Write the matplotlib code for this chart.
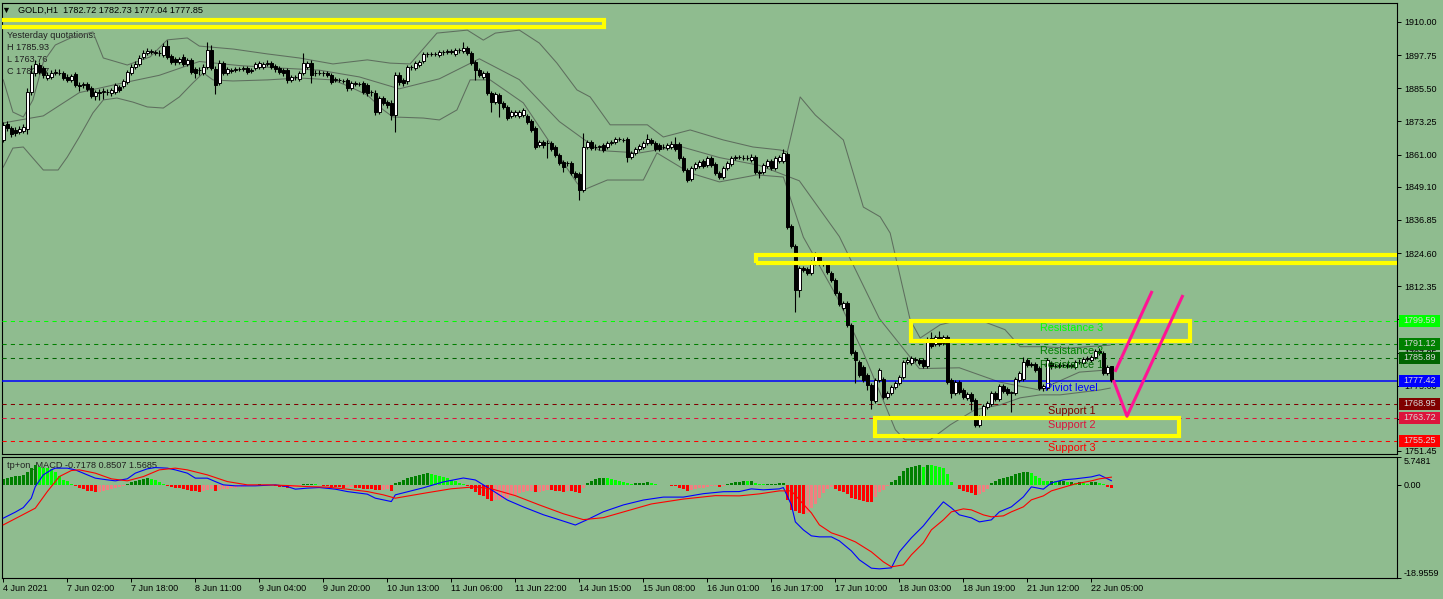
import numpy as np
import matplotlib.pyplot as plt
from matplotlib.patches import Rectangle
import matplotlib.transforms as mtransforms

plt.rcParams['font.family'] = ['Liberation Sans', 'DejaVu Sans']

BG = '#8FBC8F'

# GOLD H1 bars, 4 Jun 2021 10:00 .. 22 Jun 2021 10:00
opens = [
    1866.4, 1872.2, 1870.8, 1870.1, 1869.3, 1869.7, 1870.4, 1884.1, 1891.1, 1894.1,
    1892.9, 1889.3, 1889.6, 1891.1, 1891.1, 1891.1, 1889.6, 1888.5, 1890.7, 1886.7,
    1886.7, 1887.1, 1885.6, 1882.6, 1884.1, 1884.1, 1884.1, 1883.7, 1884.1, 1885.9,
    1886.3, 1887.8, 1891.1, 1893.3, 1894.4, 1897.0, 1898.5, 1898.9, 1898.5, 1898.5,
    1897.8, 1901.1, 1897.4, 1896.3, 1895.2, 1897.0, 1894.4, 1895.9, 1892.6, 1892.2,
    1891.1, 1893.3, 1899.6, 1892.6, 1887.4, 1894.8, 1891.1, 1891.9, 1892.2, 1892.6,
    1892.6, 1892.9, 1891.9, 1892.9, 1893.3, 1893.3, 1894.4, 1894.8, 1893.7, 1892.9,
    1892.2, 1892.2, 1888.5, 1889.6, 1888.9, 1891.1, 1893.3, 1894.8, 1891.1, 1891.1,
    1891.1, 1891.1, 1890.4, 1888.5, 1888.5, 1888.2, 1888.5, 1885.6, 1887.1, 1887.1,
    1887.4, 1886.7, 1884.1, 1883.7, 1876.7, 1881.9, 1880.4, 1880.0, 1875.6, 1890.4,
    1888.5, 1888.2, 1893.3, 1892.9, 1894.1, 1895.6, 1898.1, 1898.1, 1898.1, 1897.8,
    1898.9, 1898.9, 1899.3, 1898.1, 1899.6, 1899.3, 1900.4, 1898.5, 1895.2, 1892.2,
    1889.6, 1891.1, 1883.7, 1880.4, 1883.0, 1880.0, 1878.5, 1875.2, 1875.6, 1875.2,
    1875.6, 1875.2, 1873.4, 1870.8, 1864.5, 1865.6, 1865.3, 1865.3, 1863.8, 1860.8,
    1858.2, 1857.9, 1857.9, 1854.2, 1853.8, 1847.9, 1863.8, 1865.6, 1863.8, 1863.8,
    1864.5, 1863.8, 1865.3, 1865.6, 1866.7, 1866.4, 1866.7, 1860.1, 1861.6, 1863.0,
    1863.8, 1865.3, 1866.4, 1865.3, 1864.5, 1863.8, 1863.4, 1863.8, 1864.9, 1864.9,
    1859.7, 1855.3, 1851.9, 1856.0, 1856.7, 1858.6, 1857.1, 1859.7, 1857.5, 1854.2,
    1852.7, 1856.0, 1857.5, 1859.7, 1860.1, 1859.7, 1859.7, 1859.0, 1860.1, 1854.5,
    1854.5, 1856.7, 1858.6, 1856.0, 1858.6, 1858.6, 1861.2, 1834.6, 1827.2, 1810.9,
    1819.0, 1818.7, 1817.2, 1820.9, 1823.9, 1820.9, 1820.9, 1817.2, 1814.6, 1809.8,
    1804.3, 1806.1, 1798.0, 1787.9, 1784.3, 1782.4, 1779.5, 1775.8, 1769.9, 1777.7,
    1778.0, 1771.4, 1772.9, 1775.1, 1776.5, 1778.8, 1784.3, 1783.9, 1785.0, 1785.0,
    1785.0, 1782.8, 1793.2, 1791.0, 1793.6, 1791.4, 1793.6, 1777.7, 1772.9, 1776.9,
    1774.0, 1771.0, 1772.5, 1770.3, 1761.0, 1764.0, 1767.7, 1768.8, 1772.9, 1770.6,
    1775.5, 1774.4, 1772.9, 1772.9, 1777.7, 1778.0, 1785.0, 1783.6, 1783.6, 1782.1,
    1774.7, 1774.7, 1783.9, 1782.8, 1782.8, 1783.2, 1783.2, 1782.8, 1782.4, 1784.3,
    1783.9, 1785.4, 1785.0, 1786.1, 1788.4, 1787.6, 1780.2, 1782.72,
]
highs = [
    1873.0, 1873.4, 1871.5, 1871.2, 1871.5, 1872.2, 1885.6, 1894.1, 1895.9, 1895.2,
    1893.7, 1891.5, 1892.2, 1892.6, 1892.6, 1891.9, 1890.7, 1890.7, 1891.5, 1887.8,
    1887.8, 1887.8, 1886.3, 1884.8, 1885.2, 1885.6, 1885.2, 1885.6, 1887.4, 1886.7,
    1888.9, 1892.2, 1894.4, 1895.6, 1897.8, 1899.6, 1900.4, 1900.0, 1899.6, 1899.6,
    1902.2, 1903.3, 1898.1, 1897.0, 1897.0, 1898.1, 1896.7, 1896.7, 1893.3, 1893.3,
    1894.4, 1902.6, 1901.5, 1893.7, 1895.9, 1895.6, 1893.3, 1892.9, 1893.3, 1893.3,
    1893.7, 1893.7, 1892.9, 1895.2, 1895.6, 1895.2, 1895.9, 1895.6, 1894.4, 1893.7,
    1892.9, 1892.9, 1890.4, 1890.4, 1891.9, 1898.5, 1895.6, 1895.9, 1892.2, 1892.2,
    1891.9, 1891.9, 1891.1, 1889.6, 1889.3, 1888.9, 1889.3, 1888.2, 1888.2, 1887.8,
    1888.2, 1887.4, 1884.8, 1884.8, 1882.6, 1882.6, 1881.1, 1881.1, 1891.5, 1891.5,
    1889.3, 1894.1, 1894.1, 1895.6, 1895.9, 1898.9, 1898.9, 1898.9, 1898.9, 1899.6,
    1899.6, 1900.0, 1900.0, 1900.4, 1900.4, 1902.6, 1901.1, 1899.3, 1895.9, 1892.9,
    1891.9, 1891.9, 1884.5, 1884.1, 1883.7, 1880.8, 1879.3, 1877.4, 1877.4, 1877.4,
    1878.2, 1876.0, 1874.1, 1871.5, 1866.4, 1866.4, 1866.4, 1866.0, 1864.5, 1861.6,
    1859.0, 1858.6, 1858.6, 1854.9, 1854.5, 1869.0, 1866.4, 1866.4, 1864.9, 1864.5,
    1865.3, 1866.0, 1866.4, 1867.5, 1867.5, 1867.1, 1867.5, 1862.3, 1863.8, 1864.9,
    1866.0, 1868.6, 1867.1, 1866.0, 1865.3, 1864.9, 1865.3, 1866.0, 1867.5, 1865.6,
    1860.4, 1856.0, 1856.7, 1858.2, 1859.0, 1859.3, 1860.4, 1860.4, 1858.2, 1854.9,
    1856.7, 1858.6, 1860.4, 1860.8, 1860.8, 1860.8, 1860.8, 1861.2, 1860.8, 1855.3,
    1857.9, 1859.3, 1859.3, 1860.4, 1860.8, 1863.0, 1861.9, 1835.3, 1827.9, 1819.8,
    1819.8, 1819.4, 1822.0, 1825.0, 1824.6, 1821.6, 1821.6, 1817.9, 1815.3, 1810.5,
    1806.8, 1806.8, 1798.7, 1788.7, 1785.0, 1783.2, 1780.2, 1776.5, 1778.4, 1782.1,
    1778.8, 1773.6, 1775.8, 1777.3, 1779.5, 1785.0, 1786.1, 1786.5, 1786.1, 1785.8,
    1785.8, 1793.6, 1795.4, 1794.3, 1795.8, 1794.3, 1794.3, 1778.4, 1777.7, 1777.7,
    1774.7, 1773.2, 1773.2, 1771.0, 1764.7, 1768.8, 1769.9, 1773.6, 1773.6, 1776.2,
    1776.2, 1775.1, 1773.6, 1778.8, 1780.9, 1786.1, 1785.8, 1784.3, 1784.3, 1782.8,
    1776.2, 1785.8, 1784.7, 1783.6, 1783.9, 1783.9, 1783.9, 1783.9, 1785.0, 1785.4,
    1786.1, 1786.5, 1786.9, 1789.1, 1789.5, 1788.4, 1783.2, 1782.73,
]
lows = [
    1865.6, 1869.7, 1867.5, 1867.8, 1868.6, 1869.0, 1868.6, 1883.0, 1890.0, 1890.7,
    1889.3, 1888.5, 1888.9, 1890.4, 1890.4, 1888.5, 1887.8, 1887.8, 1885.9, 1884.5,
    1885.6, 1884.5, 1881.9, 1881.1, 1881.1, 1881.5, 1883.0, 1882.6, 1883.4, 1884.1,
    1885.6, 1887.1, 1890.4, 1892.6, 1893.7, 1896.3, 1897.8, 1898.1, 1897.8, 1897.4,
    1897.0, 1896.3, 1894.4, 1894.1, 1894.4, 1893.7, 1893.7, 1890.7, 1889.3, 1890.4,
    1890.4, 1892.6, 1892.2, 1883.4, 1886.7, 1890.4, 1890.4, 1891.1, 1891.5, 1891.9,
    1891.9, 1890.7, 1891.1, 1892.2, 1892.6, 1892.6, 1893.7, 1892.6, 1891.5, 1890.7,
    1890.0, 1887.4, 1887.8, 1888.5, 1888.2, 1890.4, 1892.6, 1887.4, 1890.0, 1890.4,
    1890.0, 1889.6, 1887.1, 1887.8, 1887.8, 1887.4, 1884.5, 1884.8, 1886.3, 1886.3,
    1883.4, 1882.6, 1882.6, 1875.6, 1876.0, 1879.3, 1878.2, 1873.7, 1869.3, 1886.7,
    1886.3, 1887.1, 1892.2, 1892.2, 1893.3, 1894.8, 1897.0, 1897.4, 1897.4, 1897.0,
    1897.8, 1898.1, 1898.1, 1897.4, 1898.5, 1898.5, 1897.8, 1894.1, 1888.5, 1889.6,
    1888.9, 1883.0, 1876.7, 1879.7, 1874.9, 1877.8, 1873.7, 1874.5, 1874.9, 1874.5,
    1874.9, 1872.2, 1869.3, 1863.0, 1863.8, 1863.4, 1859.7, 1862.3, 1860.1, 1857.1,
    1854.5, 1856.7, 1853.4, 1851.9, 1844.2, 1847.1, 1863.0, 1862.7, 1862.7, 1862.7,
    1861.9, 1863.0, 1864.5, 1864.9, 1866.0, 1865.6, 1858.2, 1859.3, 1860.8, 1862.3,
    1863.0, 1864.5, 1864.5, 1862.3, 1862.3, 1863.0, 1862.7, 1863.0, 1862.3, 1859.0,
    1854.5, 1850.9, 1851.2, 1855.3, 1856.0, 1856.0, 1856.4, 1856.4, 1853.4, 1851.9,
    1851.9, 1855.3, 1856.7, 1859.0, 1859.3, 1859.0, 1859.0, 1858.2, 1853.8, 1852.3,
    1853.8, 1856.0, 1855.3, 1855.3, 1857.9, 1857.9, 1833.5, 1826.5, 1802.8, 1808.3,
    1817.6, 1816.5, 1816.5, 1820.2, 1820.2, 1819.8, 1816.8, 1813.9, 1809.1, 1805.0,
    1803.5, 1797.2, 1786.9, 1776.5, 1778.8, 1776.9, 1774.0, 1767.0, 1769.2, 1776.9,
    1770.6, 1770.6, 1772.1, 1774.4, 1775.8, 1778.0, 1783.6, 1783.2, 1784.3, 1783.2,
    1782.1, 1782.1, 1789.5, 1790.3, 1790.3, 1790.6, 1776.2, 1771.0, 1772.1, 1772.5,
    1770.6, 1770.3, 1766.6, 1760.3, 1760.3, 1763.2, 1767.0, 1768.1, 1769.9, 1769.9,
    1772.9, 1772.1, 1765.8, 1772.1, 1776.9, 1777.3, 1782.4, 1782.4, 1780.6, 1774.0,
    1773.6, 1774.0, 1781.7, 1782.1, 1782.1, 1782.4, 1782.1, 1782.1, 1781.7, 1783.6,
    1783.2, 1784.7, 1784.3, 1785.4, 1786.9, 1779.5, 1779.5, 1777.04,
]
closes = [
    1871.9, 1870.8, 1868.6, 1869.0, 1870.4, 1871.2, 1884.1, 1891.1, 1894.4, 1891.5,
    1890.4, 1890.4, 1891.1, 1891.5, 1891.3, 1889.3, 1888.5, 1890.0, 1886.7, 1886.5,
    1886.9, 1885.2, 1882.6, 1884.1, 1883.9, 1884.5, 1884.2, 1884.8, 1886.7, 1884.8,
    1888.2, 1891.5, 1893.3, 1894.4, 1896.7, 1898.5, 1899.2, 1899.3, 1898.9, 1898.4,
    1901.1, 1897.0, 1895.2, 1895.2, 1896.3, 1894.4, 1895.9, 1891.5, 1891.1, 1892.1,
    1893.3, 1899.6, 1893.0, 1886.7, 1894.8, 1891.1, 1892.6, 1892.2, 1892.6, 1892.5,
    1892.9, 1891.5, 1892.2, 1894.4, 1894.8, 1894.4, 1894.8, 1893.3, 1892.6, 1891.5,
    1891.1, 1888.5, 1889.6, 1889.5, 1891.1, 1894.8, 1894.8, 1890.4, 1891.0, 1891.2,
    1891.0, 1890.4, 1887.8, 1888.9, 1888.4, 1888.1, 1885.6, 1887.4, 1887.4, 1887.0,
    1884.1, 1883.7, 1884.0, 1876.7, 1881.9, 1880.0, 1879.3, 1875.6, 1890.4, 1887.8,
    1887.4, 1893.3, 1893.4, 1894.8, 1895.2, 1898.1, 1898.2, 1898.0, 1898.2, 1898.9,
    1898.8, 1899.3, 1898.9, 1899.6, 1899.5, 1900.4, 1898.5, 1894.8, 1892.2, 1890.4,
    1891.1, 1883.7, 1880.4, 1883.4, 1880.0, 1878.5, 1874.5, 1876.7, 1876.7, 1876.7,
    1877.4, 1873.0, 1870.1, 1863.8, 1865.6, 1864.5, 1865.2, 1863.0, 1860.8, 1857.9,
    1856.4, 1857.8, 1854.2, 1852.7, 1847.9, 1863.8, 1865.6, 1863.4, 1863.7, 1863.9,
    1862.7, 1865.3, 1865.4, 1866.7, 1866.8, 1866.3, 1860.1, 1861.6, 1863.0, 1864.1,
    1865.3, 1866.7, 1865.3, 1863.0, 1863.0, 1863.7, 1864.5, 1864.9, 1863.0, 1859.7,
    1855.3, 1851.6, 1856.0, 1857.5, 1858.2, 1856.7, 1859.7, 1857.1, 1854.2, 1852.7,
    1856.0, 1857.9, 1859.7, 1860.1, 1860.0, 1859.8, 1859.6, 1860.1, 1854.5, 1854.2,
    1857.1, 1858.6, 1856.0, 1859.7, 1860.1, 1861.6, 1834.2, 1827.2, 1810.9, 1819.0,
    1818.3, 1817.2, 1821.3, 1823.9, 1820.9, 1820.5, 1817.6, 1814.6, 1809.8, 1805.7,
    1806.1, 1798.0, 1787.6, 1785.0, 1779.5, 1777.7, 1775.8, 1770.3, 1777.7, 1781.3,
    1771.4, 1772.9, 1775.1, 1776.5, 1778.8, 1784.3, 1785.0, 1785.8, 1785.4, 1783.9,
    1782.8, 1792.8, 1790.3, 1793.6, 1791.0, 1793.6, 1776.9, 1772.9, 1776.9, 1773.2,
    1771.4, 1772.5, 1769.9, 1761.0, 1764.0, 1768.1, 1769.2, 1772.9, 1770.6, 1775.5,
    1773.6, 1772.9, 1773.0, 1778.0, 1780.2, 1784.3, 1783.2, 1783.2, 1781.3, 1774.7,
    1775.5, 1785.0, 1782.8, 1782.7, 1783.2, 1783.1, 1782.8, 1783.2, 1784.3, 1784.2,
    1785.4, 1785.8, 1786.1, 1788.4, 1787.6, 1780.2, 1782.4, 1777.85,
]

# Bollinger bands, read at these bars
bb_up_bars = [0, 2.4, 5, 7.4, 10, 13, 17.4, 22.4, 25, 31, 36.7, 41, 46, 49, 57.5, 66, 74,
              82.4, 91, 96.7, 101.7, 108.4, 116, 120, 123, 129, 134, 138.4, 143.4, 146.7,
              151.7, 161, 165, 171.7, 180, 187.4, 194.2, 196, 199.2, 203, 210, 215,
              219.2, 221.7, 226.7, 229.2, 234.2, 239.2, 245.4, 250.4, 254.2, 259.2,
              266.7, 276.7]
bb_up = [1888.6, 1876.7, 1874.9, 1881.2, 1895.2, 1901.5, 1904.5, 1906.3, 1896.7, 1894.1,
         1897.1, 1903.4, 1904.1, 1901.1, 1900.0, 1898.2, 1896.7, 1894.5, 1896.0, 1894.8,
         1894.5, 1905.9, 1907.0, 1903.3, 1905.9, 1907.0, 1902.2, 1894.8, 1884.9, 1882.3,
         1872.0, 1872.0, 1867.5, 1870.1, 1866.4, 1863.8, 1862.7, 1862.0, 1882.3, 1875.6,
         1866.4, 1841.6, 1838.0, 1832.0, 1799.9, 1793.2, 1798.1, 1799.9, 1799.1, 1796.3,
         1790.0, 1790.0, 1789.5, 1790.6]
bb_mid_bars = [0, 10, 19, 29, 39, 49, 59, 69, 79, 89, 99, 109, 119, 129, 139, 149, 159,
               169, 179, 189, 199, 209, 219, 229, 239, 249, 259, 269, 277]
bb_mid = [1872.7, 1875.3, 1883.9, 1887.2, 1890.3, 1895.4, 1893.9, 1893.0, 1892.2, 1889.7,
          1885.3, 1889.0, 1896.4, 1888.7, 1873.2, 1862.5, 1861.6, 1864.1, 1859.9, 1857.0,
          1851.3, 1830.7, 1800.4, 1781.9, 1782.2, 1776.95, 1774.0, 1780.6, 1781.5]
bb_lo_bars = [0, 2.4, 5, 7.4, 10, 13.7, 16, 19, 22.4, 25, 28.4, 32.4, 36, 40, 44, 47.4,
              50, 52.4, 57.4, 66, 74, 82.4, 86.7, 91, 95, 97.4, 105, 109, 113.4, 116.7,
              121.7, 130, 143.4, 145, 151, 160, 163.4, 171.7, 179, 188.4, 195, 200,
              208.4, 215, 219.2, 223, 225.4, 231.7, 236.7, 242.9, 249.2, 254.2, 259.2,
              264.2, 274.2, 276.7]
bb_lo = [1856.4, 1863.4, 1863.8, 1859.7, 1855.3, 1855.3, 1860.1, 1867.5, 1876.4, 1881.2,
         1881.9, 1880.4, 1878.6, 1878.2, 1882.3, 1887.5, 1891.2, 1888.6, 1888.2, 1888.6,
         1889.3, 1888.6, 1886.0, 1883.0, 1877.5, 1874.9, 1874.5, 1873.8, 1877.5, 1888.6,
         1888.6, 1880.1, 1850.5, 1847.9, 1851.6, 1851.6, 1861.6, 1854.2, 1850.9, 1853.5,
         1852.7, 1830.5, 1808.4, 1787.7, 1772.9, 1759.3, 1755.6, 1755.6, 1761.1, 1766.7,
         1768.5, 1771.1, 1772.2, 1772.2, 1774.0, 1774.7]

# MACD histogram (one value per bar)
osma = [
    1.2, 1.4, 1.6, 1.8, 1.9, 2.0, 2.7, 3.4, 4.1, 3.7,
    3.5, 3.4, 3.3, 2.7, 1.9, 1.0, 0.7, 0.15, -0.15, -0.55,
    -0.9, -1.2, -1.25, -1.5, -1.4, -1.2, -1.1, -0.9, -0.7, -0.5,
    -0.2, 0.2, 0.5, 0.7, 1.0, 1.2, 1.35, 1.2, 0.9, 0.5,
    0.15, -0.15, -0.35, -0.55, -0.7, -0.8, -1.0, -1.2, -1.25, -1.5,
    -1.2, -1.1, -0.9, -1.2, -1.0, -0.9, -0.8, -0.7, -0.6, -0.5,
    -0.4, -0.3, -0.2, 0.05, 0.08, 0.05, 0.02, -0.05, -0.3, -0.4,
    -0.5, -0.6, -0.5, -0.4, -0.3, 0.1, 0.15, 0.15, 0.1, 0.05,
    -0.2, -0.3, -0.35, -0.4, -0.5, -0.55, -0.5, -0.45, -0.6, -0.7,
    -0.75, -0.8, -0.9, -1.0, -1.1, -1.0, -0.9, -1.2, 0.4, 0.6,
    0.9, 1.3, 1.6, 1.9, 2.1, 2.3, 2.4, 2.3, 2.1, 1.9,
    1.6, 1.3, 1.0, 0.7, 0.4, 0.2, -0.3, -0.9, -1.5, -2.0,
    -2.3, -2.8, -3.2, -3.0, -3.0, -2.8, -2.6, -2.3, -2.0, -1.7,
    -1.4, -1.3, -1.3, -1.5, -1.4, -1.2, -1.0, -1.1, -1.2, -1.3,
    -1.4, -1.2, -1.3, -1.5, -1.6, -0.6, 0.3, 0.8, 1.1, 1.3,
    1.4, 1.3, 1.2, 1.0, 0.8, 0.6, 0.3, 0.2, 0.3, 0.3,
    0.4, 0.5, 0.4, 0.2, 0.0, -0.1, -0.1, -0.2, -0.3, -0.6,
    -0.9, -1.2, -1.1, -0.9, -0.7, -0.6, -0.4, -0.3, -0.3, -0.4,
    -0.2, 0.1, 0.3, 0.5, 0.6, 0.8, 0.75, 0.8, 0.3, 0.2,
    0.15, 0.2, 0.2, 0.25, 0.3, 0.35, -3.1, -5.1, -5.4, -5.8,
    -6.0, -5.8, -4.8, -3.9, -2.7, -1.7, -0.9, -0.5, -0.8, -1.2,
    -1.4, -1.8, -2.6, -2.9, -3.1, -3.3, -3.4, -3.45, -2.4, -1.5,
    -1.0, -0.3, 0.5, 1.0, 1.9, 2.9, 3.4, 3.7, 3.9, 4.1,
    3.7, 4.1, 4.05, 3.9, 3.7, 3.4, 2.2, 0.5, 0.05, -0.8,
    -1.2, -1.5, -1.7, -2.0, -1.9, -1.4, -0.8, 0.3, 0.7, 1.2,
    1.5, 1.7, 1.9, 2.2, 2.4, 2.6, 2.65, 2.4, 1.9, 1.5,
    0.8, 0.75, 0.82, 0.7, 0.8, 0.85, 0.55, 0.6, 0.35, 0.5,
    0.35, 0.2, 0.5, 0.55, 0.35, 0.14, -0.35, -0.72,
]

# MACD main line, read at these bars
macd_bars = [0, 3, 5, 7, 8, 10, 12, 13, 16, 18, 21, 23, 26, 28, 31, 33, 36, 38, 41, 43,
             46, 48, 51, 53, 55, 58, 63, 68, 71, 73, 76, 79, 83, 86, 89, 91, 93, 97, 98,
             105, 110, 115, 118, 122, 126, 130, 135, 140, 143, 146, 150, 155, 160, 165,
             170, 175, 180, 184, 187, 190, 194, 195, 197, 198, 200, 202, 204, 207, 209,
             212, 214, 217, 219, 222, 224, 227, 230, 232, 235, 237, 239, 242, 244, 247,
             249, 252, 255, 257, 260, 262, 265, 268, 272, 274, 277]
macd_main = [-6.8, -5.57, -4.64, -2.72, -0.35, 2.04, 3.06, 3.41, 3.41, 3.06, 2.04, 1.37,
             1.02, 0.82, 1.23, 2.39, 3.27, 3.53, 3.41, 3.06, 2.39, 1.37, 1.37, 0.67, 0.0,
             -0.2, -0.2, 0.0, -0.35, -0.88, -0.67, -0.55, -0.88, -1.37, -1.69, -1.9,
             -2.72, -3.41, -2.04,
             -0.6, 0.6, 1.4, 1.0, -1.0, -3.1, -4.5, -6.1, -7.4, -8.2, -7.1, -5.5, -4.1,
             -3.1, -2.5, -2.5, -1.8, -1.4, -1.37, -0.82, -1.02, -0.82, -0.55, -4.08,
             -7.56, -9.19, -10.41, -10.62, -10.62, -11.44, -13.48, -15.31, -17.01,
             -17.15, -16.95, -13.68, -10.82, -8.37, -6.33, -3.47, -4.70, -6.13, -6.74,
             -7.56, -7.15, -5.51, -4.49, -2.45, -0.41, -0.88, 0.41, 1.02, 1.23, 1.63,
             2.04, 0.85]

# MACD signal line, read at these bars
signal_bars = [0, 4, 8, 11, 14, 17, 19, 23, 27, 31, 35, 39, 43, 46, 51, 56, 61, 66, 71,
               76, 81, 86, 91, 95, 98,
               106, 112, 118, 122, 128, 134, 140, 145, 150, 156, 162, 170, 178, 184,
               189, 194, 197, 199, 202, 204, 207, 210, 213, 217, 220, 222, 225, 227,
               230, 232, 235, 237, 240, 242, 245, 247, 250, 252, 255, 257, 260, 262,
               265, 268, 272, 274, 277]
macd_signal = [-8.17, -6.47, -4.76, -1.37, 1.69, 2.92, 3.06, 2.39, 1.23, 0.82, 1.69,
               3.06, 3.41, 3.06, 2.04, 0.67, 0.0, 0.0, -0.14, -0.35, -0.47, -0.88,
               -1.37, -2.04, -2.72,
               -1.6, -0.8, -0.4, -0.8, -2.2, -4.1, -5.9, -7.1, -6.7, -5.3, -3.9, -2.9,
               -2.2, -2.25, -1.84, -1.23, -1.23, -3.06, -5.72, -8.17, -9.80, -10.62,
               -11.64, -13.68, -15.72, -16.74, -16.34, -14.29, -11.84, -9.19, -7.15,
               -5.51, -4.90, -5.11, -6.13, -6.53, -6.33, -5.51, -4.49, -3.06, -2.25,
               -1.23, -0.51, 0.2, 0.82, 1.23, 1.57]

# pivot levels
level_values = [1799.59, 1791.12, 1785.89, 1777.42, 1768.95, 1763.72, 1755.25]
level_names = ['Resistance 3', 'Resistance 2', 'Resistance 1', 'Piviot level',
               'Support 1', 'Support 2', 'Support 3']
level_colors = ['#00FF00', '#008000', '#006400', '#0000FF', '#800000', '#DC143C', '#FF0000']

price_ticks = [1910.00, 1897.75, 1885.50, 1873.25, 1861.00, 1849.10, 1836.85, 1824.60,
               1812.35, 1800.10, 1787.85, 1775.60, 1763.35, 1751.45]

time_bars = [0, 16, 32, 48, 64, 80, 96, 112, 128, 144, 160, 176, 192, 208, 224, 240, 256, 272]
time_labels = ['4 Jun 2021', '7 Jun 02:00', '7 Jun 18:00', '8 Jun 11:00', '9 Jun 04:00',
               '9 Jun 20:00', '10 Jun 13:00', '11 Jun 06:00', '11 Jun 22:00',
               '14 Jun 15:00', '15 Jun 08:00', '16 Jun 01:00', '16 Jun 17:00',
               '17 Jun 10:00', '18 Jun 03:00', '18 Jun 19:00', '21 Jun 12:00',
               '22 Jun 05:00']

# drawn zones (bar from, bar to, price low, price high)
zones = [(-3, 150.2, 1908.1, 1910.6),
         (188.2, 400, 1821.0, 1823.8),
         (226.9, 296.7, 1792.1, 1799.4),
         (217.9, 293.9, 1756.9, 1763.7)]

# drawn forecast path
path1_bars = [277.9, 287.2]
path1_prices = [1780.7, 1810.6]
path2_bars = [277.5, 280.9, 294.9]
path2_prices = [1777.7, 1764.3, 1809.1]

W, H = 1443, 599


def px_box(x0, y0, x1, y1):
    return [x0 / W, 1 - y1 / H, (x1 - x0) / W, (y1 - y0) / H]


fig = plt.figure(figsize=(W / 100, H / 100), dpi=100, facecolor=BG)
ax = fig.add_axes(px_box(2, 3, 1397, 454), facecolor=BG)
mx = fig.add_axes(px_box(2, 456.7, 1397, 577.7), facecolor=BG)

x = np.arange(len(closes))
o = np.array(opens)
c = np.array(closes)
hi = np.array(highs)
lo = np.array(lows)

for a in (ax, mx):
    a.set_xlim(-0.325, 348.4)
    for s in a.spines.values():
        s.set_color('black')
        s.set_linewidth(0.8)

ax.set_ylim(1750.34, 1917.02)

# bollinger bands
for bx, by in ((bb_up_bars, bb_up), (bb_mid_bars, bb_mid), (bb_lo_bars, bb_lo)):
    ax.plot(bx, by, color='#5E6E5E', lw=0.75, zorder=2)

# candles
ax.vlines(x, lo, hi, color='black', lw=0.8, zorder=4)
bull = c >= o
body_lo = np.minimum(o, c)
body_h = np.maximum(np.abs(c - o), 0.2)
ax.bar(x[bull], body_h[bull], bottom=body_lo[bull], width=0.62, color='white',
       edgecolor='black', lw=0.7, zorder=5)
ax.bar(x[~bull], body_h[~bull], bottom=body_lo[~bull], width=0.62, color='black',
       edgecolor='black', lw=0.7, zorder=5)

# pivot lines
for val, name, col in zip(level_values, level_names, level_colors):
    if name.startswith('Piviot'):
        ax.axhline(val, color=col, lw=1.1, zorder=3)
    else:
        ax.axhline(val, color=col, lw=0.75, ls=(0, (4, 4)), zorder=3)
    ax.text(267, val - 2.7, name, color=col, fontsize=7.8, ha='center', va='center',
            zorder=6)

# yellow zones
for x0, x1, p0, p1 in zones:
    ax.add_patch(Rectangle((x0, p0), x1 - x0, p1 - p0, fill=False, edgecolor='#FFFF00',
                           lw=3.0, zorder=7))

ax.plot(path1_bars, path1_prices, color='#FF1493', lw=2.2, zorder=8, solid_capstyle='butt')
ax.plot(path2_bars, path2_prices, color='#FF1493', lw=2.2, zorder=8, solid_capstyle='butt')

# axes ticks
ax.set_xticks([])
ax.yaxis.tick_right()
ax.set_yticks(price_ticks)
ax.set_yticklabels(['%.2f' % v for v in price_ticks])
ax.tick_params(axis='y', direction='out', length=3, width=0.7, pad=2, labelsize=6.5,
               colors='black')

# price boxes at right
btrans = mtransforms.blended_transform_factory(ax.transAxes, ax.transData)
box_h = 12 * (1917.02 - 1750.34) / 451
for val, col in zip(level_values, level_colors):
    ax.add_patch(Rectangle(((1399 - 2) / 1395, val - box_h / 2), 41 / 1395, box_h,
                           transform=btrans, facecolor=col, edgecolor='none',
                           clip_on=False, zorder=9))
    ax.text((1403 - 2) / 1395, val, '%.2f' % val, transform=btrans, fontsize=6.5,
            color='#D8D8D8', ha='left', va='center', zorder=10, clip_on=False)

# header texts
ftr = fig.transFigure
ax.text(6 / W, 1 - 10.5 / H, '\u25bc', transform=ftr, fontsize=6.5, ha='center',
        va='center', color='black', zorder=1)
ax.text(18 / W, 1 - 10 / H, 'GOLD,H1  1782.72 1782.73 1777.04 1777.85', transform=ftr,
        fontsize=6.6, ha='left', va='center', color='black', zorder=1)
info = ['Yesterday quotations:', 'H 1785.93', 'L 1763.76', 'C 1782.57']
for k, t in enumerate(info):
    ax.text(7 / W, 1 - (35 + 12.2 * k) / H, t, transform=ftr, fontsize=6.6, ha='left',
            va='center', color='#202020', zorder=1)

# MACD panel
hist = np.array(osma)
cols = []
for i, v in enumerate(hist):
    prev = hist[i - 1] if i > 0 else 0.0
    if v >= 0:
        cols.append('#008000' if v >= prev else '#00FF00')
    else:
        cols.append('#FF0000' if v < prev else '#F08080')
mx.bar(x, hist, width=0.75, color=cols, zorder=2)
mx.plot(macd_bars, macd_main, color='#0000FF', lw=0.8, zorder=3)
mx.plot(signal_bars, macd_signal, color='#FF0000', lw=0.8, zorder=3)
mx.set_ylim(-18.9559, 5.7481)
mx.yaxis.tick_right()
mx.set_yticks([5.7481, 0.0, -18.9559])
mx.set_yticklabels(['5.7481', '0.00', '-18.9559'])
mx.tick_params(axis='y', direction='out', length=3, width=0.7, pad=2, labelsize=6.5,
               colors='black')
ylabs = mx.get_yticklabels()
ylabs[0].set_va('top')
ylabs[2].set_va('bottom')
mx.text(7 / W, 1 - 465 / H, 'tp+on_MACD -0.7178 0.8507 1.5685', transform=ftr,
        fontsize=6.6, ha='left', va='center', color='#202020', zorder=1)

mx.set_xticks(time_bars)
mx.set_xticklabels(time_labels, ha='left')
mx.tick_params(axis='x', direction='out', length=3, width=0.7, pad=1.5, labelsize=6.5,
               colors='black')

fig.savefig('out.png', dpi=100, facecolor=BG)
